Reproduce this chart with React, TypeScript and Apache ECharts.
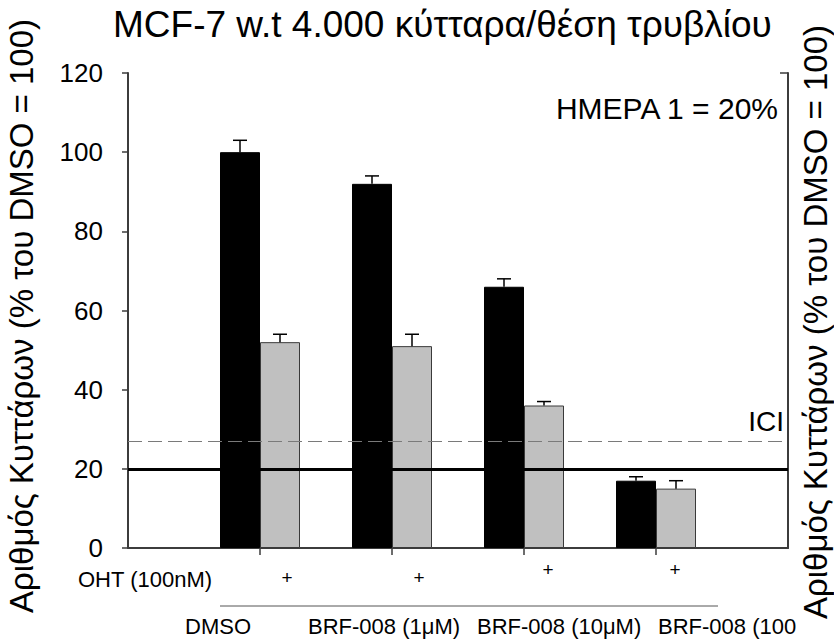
import React, { useEffect, useRef } from "react";
import * as echarts from "echarts";

// Category slots: the empty first and last slots leave room at both ends of the axis.
const categories = ["", "DMSO", "BRF-008 (1μM)", "BRF-008 (10μM)", "BRF-008 (100μM)", ""];
const groupLabels = ["DMSO", "BRF-008 (1μM)", "BRF-008 (10μM)", "BRF-008 (100μM)"];

// Cell counts, % of DMSO
const controlValues: (number | string)[] = ["-", 100, 92, 66, 17, "-"];
const controlErrors: (number | null)[] = [null, 3, 2, 2, 1, null];
const ohtValues: (number | string)[] = ["-", 52, 51, 36, 15, "-"];
const ohtErrors: (number | null)[] = [null, 2, 3, 1, 2, null];

const yMin = 0;
const yMax = 120;
const yStep = 20;

const dayOneLevel = 20; // ΗΜΕΡΑ 1
const iciLevel = 27; // ICI

const titleText = "MCF-7 w.t 4.000 κύτταρα/θέση τρυβλίου";
const yAxisTitle = "Αριθμός Κυττάρων (% του DMSO = 100)";
const dayOneText = "ΗΜΕΡΑ 1 = 20%";
const ohtText = "OHT (100nM)";

const FONT = "'Liberation Sans', Arial, Helvetica, sans-serif";
const BAR_W = 40;
const AXIS_COLOR = "#3c3c3c";

function errorSeries(values: (number | string)[], errors: (number | null)[], offset: number) {
  const data: number[][] = [];
  values.forEach((v, i) => {
    const e = errors[i];
    if (typeof v === "number" && e != null) data.push([i, v, e]);
  });
  return {
    type: "custom",
    z: 4,
    silent: true,
    encode: { x: 0, y: 1 },
    data,
    renderItem: (_params: any, api: any) => {
      const idx = api.value(0);
      const v = api.value(1);
      const e = api.value(2);
      const base = api.coord([idx, v]);
      const top = api.coord([idx, v + e]);
      const x = base[0] + offset;
      return {
        type: "group",
        children: [
          {
            type: "line",
            shape: { x1: x, y1: base[1], x2: x, y2: top[1] },
            style: { stroke: "#000", lineWidth: 1.5 },
          },
          {
            type: "line",
            shape: { x1: x - 7, y1: top[1], x2: x + 7, y2: top[1] },
            style: { stroke: "#000", lineWidth: 1.5 },
          },
        ],
      };
    },
  };
}

export default function App() {
  const ref = useRef<HTMLDivElement>(null);

  useEffect(() => {
    if (!ref.current) return;
    const chart = echarts.init(ref.current, undefined, { renderer: "svg" });

    const plusMarks = [
      { x: 287, y: 577 },
      { x: 419, y: 577 },
      { x: 548, y: 569 },
      { x: 675, y: 569 },
    ];
    const groupLabelX = [185, 308, 477, 658];

    chart.setOption({
      animation: false,
      backgroundColor: "#ffffff",
      textStyle: { fontFamily: FONT },
      grid: { left: 128, right: 46, top: 73, bottom: 91, outerBoundsMode: "none" },
      xAxis: {
        type: "category",
        data: categories,
        boundaryGap: false,
        axisLine: { show: true, lineStyle: { color: AXIS_COLOR, width: 2 } },
        axisTick: {
          show: true,
          length: 7,
          interval: (i: number) => i >= 1 && i <= 4,
          lineStyle: { color: AXIS_COLOR, width: 1.5 },
        },
        axisLabel: { show: false },
        splitLine: { show: false },
      },
      yAxis: [
        {
          type: "value",
          min: yMin,
          max: yMax,
          interval: yStep,
          axisLine: { show: true, lineStyle: { color: AXIS_COLOR, width: 2 } },
          axisTick: { show: true, length: 6, lineStyle: { color: AXIS_COLOR, width: 1.5 } },
          axisLabel: { fontSize: 26, color: "#000", margin: 25, fontFamily: FONT },
          splitLine: { show: false },
        },
        {
          type: "value",
          position: "right",
          min: yMin,
          max: yMax,
          interval: yMax - yMin,
          axisLine: { show: true, lineStyle: { color: AXIS_COLOR, width: 2 } },
          axisTick: { show: true, inside: true, length: 8, lineStyle: { color: AXIS_COLOR, width: 1.5 } },
          axisLabel: { show: false },
          splitLine: { show: false },
        },
      ],
      series: [
        {
          name: "DMSO",
          type: "bar",
          data: controlValues,
          barWidth: BAR_W,
          barGap: "0%",
          itemStyle: { color: "#000000", borderColor: "#000000", borderWidth: 1 },
          z: 2,
          markLine: {
            silent: true,
            symbol: "none",
            z: 5,
            data: [
              {
                yAxis: dayOneLevel,
                lineStyle: { color: "#000000", width: 3, type: "solid" },
                label: { show: false },
              },
              {
                yAxis: iciLevel,
                lineStyle: { color: "#7a7a7a", width: 1, type: [14, 6] },
                label: {
                  show: true,
                  formatter: "ICI",
                  position: "insideEndTop",
                  fontSize: 28,
                  color: "#000",
                  fontFamily: FONT,
                  distance: [4, 6],
                },
              },
            ],
          },
        },
        {
          name: "OHT",
          type: "bar",
          data: ohtValues,
          barWidth: BAR_W,
          barGap: "0%",
          itemStyle: { color: "#c0c0c0", borderColor: "#3a3a3a", borderWidth: 1 },
          z: 2,
        },
        errorSeries(controlValues, controlErrors, -BAR_W / 2),
        errorSeries(ohtValues, ohtErrors, BAR_W / 2),
      ],
      graphic: [
        {
          type: "text",
          x: 113,
          y: 24,
          style: {
            text: titleText,
            fontSize: 37,
            fontFamily: FONT,
            fill: "#000",
            textAlign: "left",
            textVerticalAlign: "middle",
          },
        },
        {
          type: "text",
          x: 21,
          y: 316,
          rotation: Math.PI / 2,
          style: {
            text: yAxisTitle,
            fontSize: 33,
            fontFamily: FONT,
            fill: "#000",
            textAlign: "center",
            textVerticalAlign: "middle",
          },
        },
        {
          type: "text",
          x: 815,
          y: 322,
          rotation: Math.PI / 2,
          style: {
            text: yAxisTitle,
            fontSize: 33,
            fontFamily: FONT,
            fill: "#000",
            textAlign: "center",
            textVerticalAlign: "middle",
          },
        },
        {
          type: "text",
          x: 778,
          y: 108,
          style: {
            text: dayOneText,
            fontSize: 30,
            fontFamily: FONT,
            fill: "#000",
            textAlign: "right",
            textVerticalAlign: "middle",
          },
        },
        {
          type: "text",
          x: 78,
          y: 579,
          style: {
            text: ohtText,
            fontSize: 22,
            fontFamily: FONT,
            fill: "#000",
            textAlign: "left",
            textVerticalAlign: "middle",
          },
        },
        ...plusMarks.map((p) => ({
          type: "text",
          x: p.x,
          y: p.y,
          style: {
            text: "+",
            fontSize: 19,
            fontFamily: FONT,
            fill: "#000000",
            textAlign: "center",
            textVerticalAlign: "middle",
          },
        })),
        {
          type: "line",
          shape: { x1: 220, y1: 606, x2: 718, y2: 606 },
          style: { stroke: "#555", lineWidth: 1 },
        },
        ...groupLabels.map((t, i) => ({
          type: "text",
          x: groupLabelX[i],
          y: 626,
          style: {
            text: t,
            fontSize: 22,
            fontFamily: FONT,
            fill: "#000",
            textAlign: "left",
            textVerticalAlign: "middle",
            width: 834 - 34 - groupLabelX[i],
            overflow: "truncate",
            ellipsis: "",
          },
        })),
      ],
    });

    return () => chart.dispose();
  }, []);

  return (
    <div
      ref={ref}
      style={{ position: "fixed", left: 0, top: 0, width: 834, height: 639, background: "#fff" }}
    />
  );
}
